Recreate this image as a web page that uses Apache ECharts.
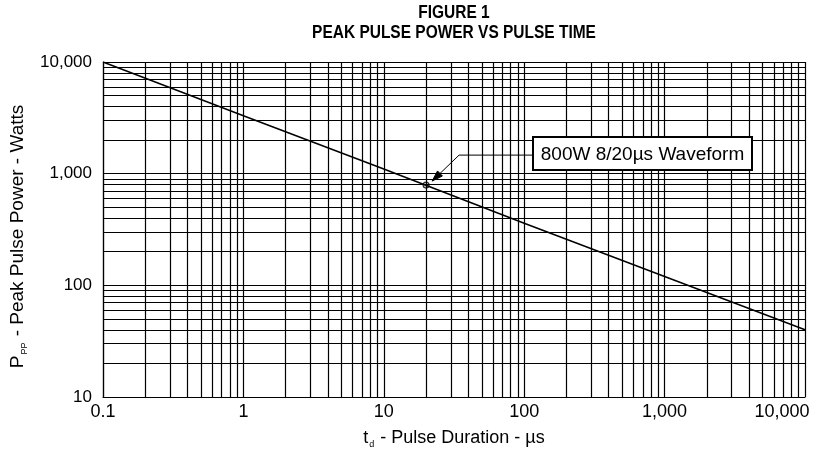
<!DOCTYPE html>
<html>
<head>
<meta charset="utf-8">
<script src="https://cdn.jsdelivr.net/npm/echarts@6/dist/echarts.min.js"></script>
<style>html,body{margin:0;padding:0;background:#fff;}#c{width:827px;height:449px;}</style>
</head>
<body>
<div id="c"></div>
<script>
// ---- data ----
var pulseDuration = [0.1, 1, 10, 100, 1000, 10000];      // µs
var peakPower = [10000, 3300, 1100, 360, 120, 40];        // W
var waveformPoint = [20, 790];                            // 8/20µs point
var waveformLabel = '800W 8/20\u00b5s Waveform';
var xTickValues = [0.1, 1, 10, 100, 1000, 10000];
var yTickValues = [10, 100, 1000, 10000];
var xDecades = [0.1, 1, 10, 100, 1000];
var yDecades = [10, 100, 1000];
var minorMultipliers = [2, 3, 4, 5, 6, 7, 8, 9];

var FONT = '"Liberation Sans", Arial, Helvetica, sans-serif';
var GRID_W = 1.2;

function fmt(v) {
  if (v < 1) return String(Math.round(v * 10) / 10);
  return Math.round(v).toLocaleString('en-US');
}
function fmtX(v) {
  var s = fmt(v);
  return v >= 10000 ? '{r|' + s + '}' : s;
}

var minorX = [], minorY = [];
xDecades.forEach(function (d) { minorMultipliers.forEach(function (m) { minorX.push({ xAxis: +(d * m).toPrecision(6) }); }); });
yDecades.forEach(function (d) { minorMultipliers.forEach(function (m) { minorY.push({ yAxis: +(d * m).toPrecision(6) }); }); });

var lineData = pulseDuration.map(function (x, i) { return [x, peakPower[i]]; });

var chart = echarts.init(document.getElementById('c'), null, { renderer: 'canvas' });
chart.setOption({
  animation: false,
  backgroundColor: '#fff',
  grid: { left: 103, right: 22, top: 62, bottom: 52, containLabel: false, outerBoundsMode: 'none' },
  xAxis: {
    type: 'log', logBase: 10, min: 0.1, max: 10000,
    axisLine: { show: true, lineStyle: { color: '#000', width: GRID_W } },
    axisTick: { show: false },
    axisLabel: {
      color: '#000', fontSize: 18, fontFamily: FONT, margin: 6, formatter: fmtX,
      rich: { r: { fontSize: 18, fontFamily: FONT, color: '#000', padding: [0, 46, 0, 0] } }
    },
    splitLine: { show: true, lineStyle: { color: '#000', width: GRID_W } },
    name: '{n|t}{s|d}{n| - Pulse Duration - \u00b5s}',
    nameLocation: 'middle', nameGap: 30,
    nameTextStyle: {
      color: '#000', fontFamily: FONT,
      rich: {
        n: { fontSize: 18, fontFamily: FONT, color: '#000', lineHeight: 22, verticalAlign: 'middle' },
        s: { fontSize: 9, fontFamily: FONT, color: '#000', lineHeight: 9, padding: [13, 1, 0, 1], verticalAlign: 'middle' }
      }
    }
  },
  yAxis: {
    type: 'log', logBase: 10, min: 10, max: 10000,
    axisLine: { show: true, lineStyle: { color: '#000', width: GRID_W } },
    axisTick: { show: false },
    axisLabel: { color: '#000', fontSize: 17, fontFamily: FONT, margin: 11, formatter: fmt },
    splitLine: { show: true, lineStyle: { color: '#000', width: GRID_W } },
    name: '{n|P}{s|PP}{n| - Peak Pulse Power - Watts}',
    nameLocation: 'middle', nameGap: 73,
    nameTextStyle: {
      color: '#000', fontFamily: FONT, padding: [0, 14, 0, 0],
      rich: {
        n: { fontSize: 19, fontFamily: FONT, color: '#000', lineHeight: 23, verticalAlign: 'middle' },
        s: { fontSize: 9, fontFamily: FONT, color: '#000', lineHeight: 9, padding: [14, 1, 0, 1], verticalAlign: 'middle' }
      }
    }
  },
  series: [
    {
      type: 'line', data: [], silent: true,
      markLine: {
        silent: true, symbol: ['none', 'none'], animation: false,
        label: { show: false },
        lineStyle: { color: '#000', width: GRID_W, type: 'solid' },
        emphasis: { disabled: true },
        data: minorX.concat(minorY)
      }
    },
    {
      type: 'line', data: lineData, showSymbol: false, symbol: 'none', silent: true,
      lineStyle: { color: '#000', width: 1.5 }
    },
    {
      type: 'scatter', data: [waveformPoint], symbol: 'circle', symbolSize: 6, silent: true,
      itemStyle: { color: '#bbb', borderColor: '#000', borderWidth: 1.2 }
    }
  ]
});

// ---- annotation ----
var tip0 = chart.convertToPixel({ gridIndex: 0 }, waveformPoint);
var tip = [tip0[0] + 6, tip0[1] - 4];
var knee = [tip0[0] + 33, tip0[1] - 30];
var boxX = 533, boxY = 137, boxW = 219, boxH = 33;
var dx = tip[0] - knee[0], dy = tip[1] - knee[1];
var len = Math.sqrt(dx * dx + dy * dy);
var ux = dx / len, uy = dy / len;
var aL = 11, aW = 3.5;
var base = [tip[0] - ux * aL, tip[1] - uy * aL];
var p1 = [base[0] - uy * aW, base[1] + ux * aW];
var p2 = [base[0] + uy * aW, base[1] - ux * aW];
var titleX = (103 + 805) / 2;

chart.setOption({
  graphic: [
    { type: 'text', silent: true, x: titleX, y: 13, scaleX: 0.86,
      style: { text: 'FIGURE 1', x: 0, y: 0, textAlign: 'center', textVerticalAlign: 'middle', fontSize: 18, fontWeight: 'bold', fontFamily: FONT, fill: '#000' } },
    { type: 'text', silent: true, x: titleX, y: 33, scaleX: 0.86,
      style: { text: 'PEAK PULSE POWER VS PULSE TIME', x: 0, y: 0, textAlign: 'center', textVerticalAlign: 'middle', fontSize: 18, fontWeight: 'bold', fontFamily: FONT, fill: '#000' } },
    { type: 'polyline', silent: true, shape: { points: [[boxX, knee[1]], knee, base] }, style: { stroke: '#000', lineWidth: 1, fill: null }, z: 10 },
    { type: 'polygon', silent: true, shape: { points: [tip, p1, p2] }, style: { fill: '#000', stroke: '#000', lineWidth: 1 }, z: 10 },
    { type: 'rect', silent: true, shape: { x: boxX, y: boxY, width: boxW, height: boxH }, style: { fill: '#fff', stroke: '#000', lineWidth: 2 }, z: 10 },
    { type: 'text', silent: true, z: 11, style: { text: waveformLabel, x: boxX + boxW / 2, y: boxY + boxH / 2 + 1, textAlign: 'center', textVerticalAlign: 'middle', fontSize: 19, fontFamily: FONT, fill: '#000' } }
  ]
});
</script>
</body>
</html>
